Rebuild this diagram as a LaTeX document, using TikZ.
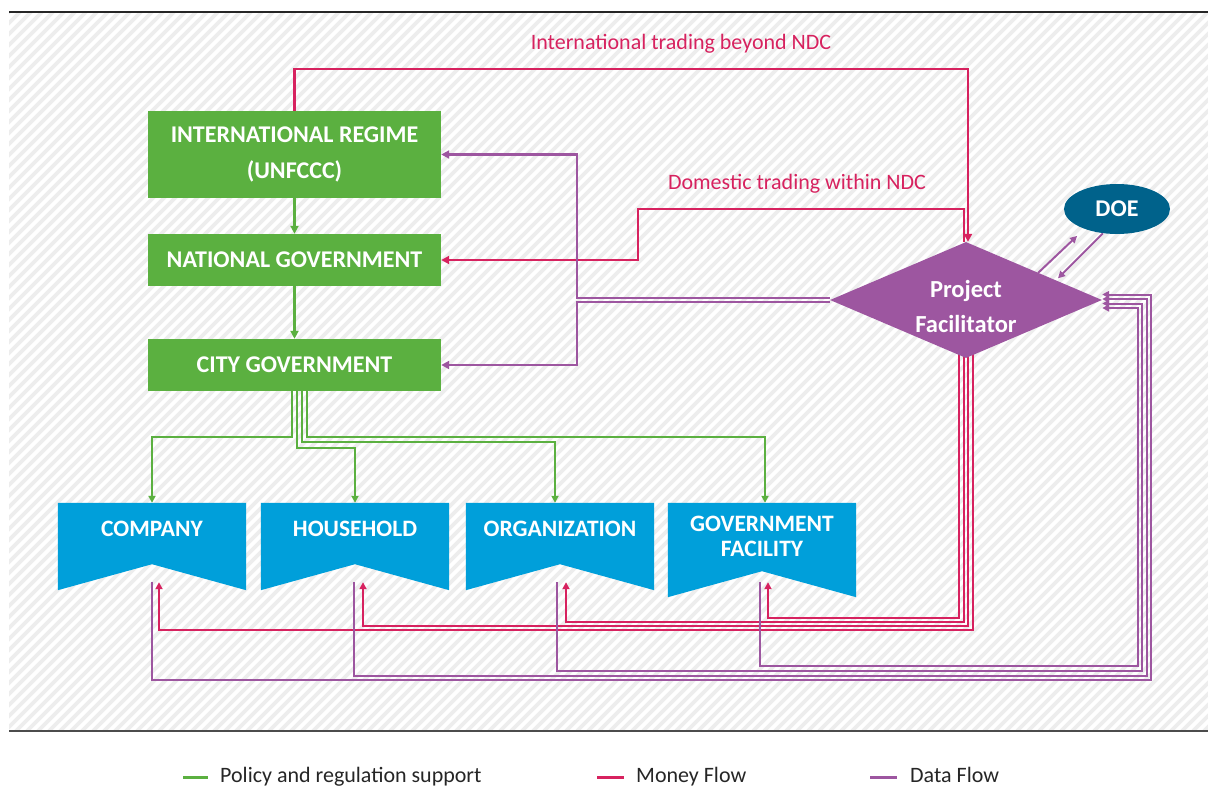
\documentclass[tikz,border=0pt]{standalone}
\usepackage{fontspec}
\setmainfont{Carlito}
\usetikzlibrary{shapes.geometric,arrows.meta}
\pgfdeclarelayer{bg}
\pgfdeclarelayer{lines}
\pgfsetlayers{bg,lines,main}
\definecolor{gr}{HTML}{5BB040}
\definecolor{bl}{HTML}{009FDA}
\definecolor{pu}{HTML}{9D56A0}
\definecolor{mg}{HTML}{D7225F}
\definecolor{doec}{HTML}{00628B}
\definecolor{stripec}{HTML}{EDEDED}
\begin{document}
\begin{tikzpicture}[x=1pt,y=-1pt,
  >={Triangle[length=8pt,width=8pt]},
  flow/.style={line width=2.4pt},
  thin flow/.style={line width=2pt,>={Triangle[length=7pt,width=7pt]}},
  pol/.style={flow,draw=gr,->},
  mon/.style={flow,draw=mg,->},
  dat/.style={flow,draw=pu,->},
  boxfont/.style={font=\fontsize{24}{36}\selectfont\bfseries},
  gbox/.style={boxfont,fill=gr,text=white,minimum width=293pt,align=center,inner sep=0pt},
  bbox/.style={minimum width=188pt,inner sep=0pt},
  btext/.style={text=white,align=center,inner sep=0pt,font=\fontsize{23.5}{25}\selectfont\bfseries},
  mlabel/.style={text=mg,font=\fontsize{22}{26}\selectfont,inner sep=0pt},
  legtext/.style={anchor=base west,text=black!85,font=\fontsize{22}{26}\selectfont,inner sep=0pt},
  stripe/.style={draw=stripec,line width=3.6pt}
]
\useasboundingbox (0,0) rectangle (1208,789);
\begin{pgfonlayer}{bg}
  \fill[white] (0,0) rectangle (1208,789);
  \begin{scope}
    \clip (9,12) rectangle (1208,731);
    \foreach \i in {0,...,175} \draw[stripe] ({\i*11-710},731) -- ++(719,-719);
  \end{scope}
  \draw[line width=1.2pt,black!85] (9,12) -- (1208,12);
  \draw[line width=2pt,black!70] (9,731) -- (1208,731);
\end{pgfonlayer}

% main nodes
\node[gbox,minimum height=87pt] (ir) at (294.5,154.5) {INTERNATIONAL REGIME\\(UNFCCC)};
\node[gbox,minimum height=52pt] (ng) at (294.5,260) {NATIONAL GOVERNMENT};
\node[gbox,minimum height=52pt] (cg) at (294.5,365) {CITY GOVERNMENT};

\node[diamond,shape aspect=2.34,fill=pu,minimum width=272pt,minimum height=116pt,inner sep=0pt,
      text=white,font=\fontsize{24.5}{35}\selectfont\bfseries] (pf) at (966,300)
      {\raisebox{-14pt}[0pt][0pt]{\begin{tabular}{@{}c@{}}Project\\Facilitator\end{tabular}}};
\node[ellipse,fill=doec,minimum width=106pt,minimum height=50pt,inner sep=0pt,
      text=white,boxfont] (doe) at (1117,209) {DOE};

% blue notched boxes
\node[bbox,minimum height=87pt] (company) at (152,546.5) {};
\node[bbox,minimum height=87pt] (hh) at (355,546.5) {};
\node[bbox,minimum height=87pt] (org) at (560,546.5) {};
\node[bbox,minimum height=94pt] (gf) at (762,550) {};
\foreach \b in {company,hh,org,gf}
  \fill[bl] (\b.north west) -- (\b.north east) -- (\b.south east)
    -- ([yshift=26pt]\b.south) -- (\b.south west) -- cycle;
\node[btext] (companyt) at ([yshift=-26pt]company.north) {COMPANY};
\node[btext] (hht) at ([yshift=-26pt]hh.north) {HOUSEHOLD};
\node[btext] (orgt) at ([yshift=-26pt]org.north) {ORGANIZATION};
\node[btext] (gft) at ([yshift=-34pt]gf.north) {GOVERNMENT\\FACILITY};

% labels
\node[mlabel] (intl) at (681,44) {International trading beyond NDC};
\node[mlabel] (dom) at (797,184) {Domestic trading within NDC};

\begin{pgfonlayer}{lines}
% policy
\draw[pol] (ir.south) -- (ng.north);
\draw[pol] (ng.south) -- (cg.north);
\draw[pol,thin flow] ([xshift=-2.5pt]cg.south) -- ++(0,46) -| (company.north);
\draw[pol,thin flow] ([xshift=2.5pt]cg.south) -- ++(0,57) -| (hh.north);
\draw[pol,thin flow] ([xshift=7.5pt]cg.south) -- ++(0,51) -| ([xshift=-5pt]org.north);
\draw[pol,thin flow] ([xshift=12.5pt]cg.south) -- ++(0,46) -| ([xshift=3pt]gf.north);
% money
\draw[mon] (ir.north) -- ++(0,-42) -| ([xshift=2pt]pf.north);
\draw[mon] ([xshift=-2pt]pf.north) |- (638,209) |- (ng.east);
\draw[mon,thin flow] ([xshift=-7pt,yshift=6pt]pf.south) -- ++(0,266) -| ([xshift=6pt,yshift=15pt]gf.south);
\draw[mon,thin flow] ([xshift=-2.5pt,yshift=6pt]pf.south) -- ++(0,270) -| ([xshift=6pt,yshift=8pt]org.south);
\draw[mon,thin flow] ([xshift=2pt,yshift=6pt]pf.south) -- ++(0,274) -| ([xshift=8pt,yshift=8pt]hh.south);
\draw[mon,thin flow] ([xshift=6.5pt,yshift=6pt]pf.south) -- ++(0,278) -| ([xshift=7pt,yshift=8pt]company.south);
% data
\draw[dat] ([yshift=2pt]pf.west) -- (577,298) |- (ir.east);
\draw[dat] ([yshift=-2pt]pf.west) -- (577,302) |- (cg.east);
\draw[dat,thin flow] ([xshift=-2pt,yshift=15pt]gf.south) |- (1137.5,666) |- ([yshift=-8pt]pf.east);
\draw[dat,thin flow] ([xshift=-3pt,yshift=8pt]org.south) |- (1142,671) |- ([yshift=-3.5pt]pf.east);
\draw[dat,thin flow] ([xshift=-1pt,yshift=8pt]hh.south) |- (1146.5,675.5) |- ([yshift=1pt]pf.east);
\draw[dat,thin flow] ([yshift=8pt]company.south) |- (1151,680) |- ([yshift=5.5pt]pf.east);
\draw[dat,thin flow] ([xshift=4pt,yshift=-2pt]pf.north east) -- ++(39,-37);
\draw[dat,thin flow] (doe.240) -- ++(-45,45);
\end{pgfonlayer}

% legend
\node[legtext] (l1) at (220,782) {Policy and regulation support};
\node[legtext] (l2) at (636,782) {Money Flow};
\node[legtext] (l3) at (910,782) {Data Flow};
\draw[gr,line width=3pt] ([xshift=-37pt,yshift=5pt]l1.base west) -- ++(25,0);
\draw[mg,line width=3pt] ([xshift=-39pt,yshift=5pt]l2.base west) -- ++(27,0);
\draw[pu,line width=3pt] ([xshift=-40pt,yshift=5pt]l3.base west) -- ++(27,0);
\end{tikzpicture}
\end{document}
